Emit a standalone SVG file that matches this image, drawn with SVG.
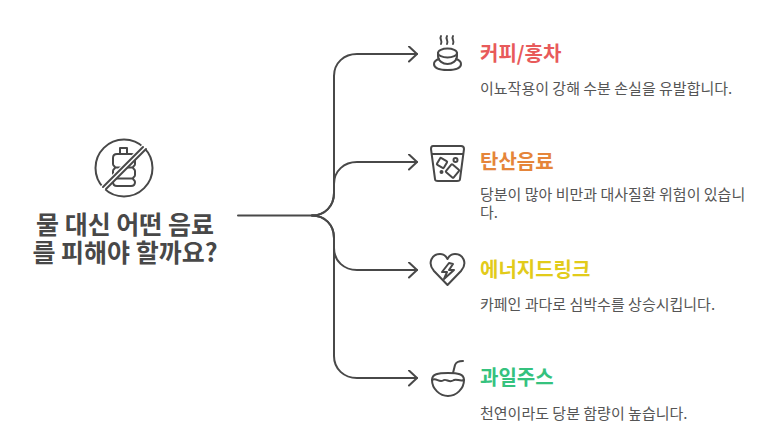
<svg xmlns="http://www.w3.org/2000/svg" width="775" height="446" viewBox="0 0 775 446">
<style>
text{font-family:"Noto Sans CJK KR","Noto Sans",sans-serif}
.t{font-size:25px;font-weight:700;fill:#484848;text-anchor:middle}
.h{font-size:20px;font-weight:700}
.d{font-size:15px;fill:#555}
.s{fill:none;stroke:#484848;stroke-width:2;stroke-linecap:round;stroke-linejoin:round}
</style>
<defs><marker id="a" markerUnits="userSpaceOnUse" markerWidth="14" markerHeight="18" refX="10" refY="8" orient="auto"><path d="M2 0.5L10 8L2 15.500" fill="none" stroke="#484848" stroke-width="2" stroke-linecap="round" stroke-linejoin="round"/></marker></defs>
<rect width="775" height="446" fill="#fff"/>
<g id="connectors" class="s">
<path marker-end="url(#a)" d="M238 215.500H312C325 215.500 334 206 334 193V76C334 63 344 54 357 54H417"/>
<path marker-end="url(#a)" d="M312 215.500C325 215.500 334 206 334 193V184C334 171 344 162 357 162H417"/>
<path marker-end="url(#a)" d="M312 215.500C325 215.500 334 225 334 238V248C334 261 344 270 357 270H417"/>
<path marker-end="url(#a)" d="M312 215.500C325 215.500 334 225 334 238V356C334 369 344 378 357 378H417"/>
</g>
<g id="root">
<g class="s">
<circle cx="124" cy="168" r="28.500"/>
<path d="M120 148h7v6h-7zM120 154h-3c-2 0-4 1-4 4v6c0 2 2 2 2 3.500s-2 1.500-2 3.500v4c0 2 2 2 2 3.500s-2 1.500-2 3.500c0 3 2 4 4 4h14c2 0 4-1 4-4 0-2-2-2-2-3.500s2-1.500 2-3.500v-4c0-2-2-2-2-3.500s2-1.500 2-3.500v-6c0-3-2-4-4-4h-4M115 167.500h18M115 178.500h18"/>
<path d="M104 187L144 147" stroke="#fff" stroke-width="6"/>
<path d="M103 187L143 147"/><path d="M106 189L146 149"/>
</g>
<text class="t"><tspan x="125" y="234">물 대신 어떤 음료</tspan><tspan x="125" y="262">를 피해야 할까요?</tspan></text>
</g>
<g id="n1">
<g class="s">
<path d="M441 36c-2 3 2 5 0 8M447 36c-2 3 2 5 0 8M453 36c-2 3 2 5 0 8"/>
<ellipse cx="447.500" cy="53" rx="9.500" ry="4.500"/>
<path d="M438 53v3c0 5 5 8 9.500 8s9.500-3 9.500-8v-3"/>
<path d="M439 59c-3 1-5 3-5 5 0 4 6 6 13.500 6s13.500-2 13.500-6c0-2-2-4-5-5"/>
</g>
<text class="h" x="480" y="61" fill="#e85a5a">커피/홍차</text>
<text class="d" x="480" y="94">이뇨작용이 강해 수분 손실을 유발합니다.</text>
</g>
<g id="n2">
<g class="s">
<path d="M433 146H461C463 146 464 147 464 149L460 179C460 181 459 181 457 181H438C436 181 435 181 435 179L431 149C431 147 432 146 433 146Z"/>
<path d="M432 154H463"/>
<rect x="-4" y="-4" width="8" height="8" rx="1" transform="translate(442 163) rotate(30)"/>
<rect x="-5" y="-5" width="10" height="10" rx="1" transform="translate(452.500 171) rotate(40)"/>
<circle cx="455.500" cy="160" r="2"/><circle cx="441.500" cy="172" r="1"/>
</g>
<text class="h" x="480" y="169" fill="#e5853a">탄산음료</text>
<text class="d"><tspan x="480" y="200">당분이 많아 비만과 대사질환 위험이 있습니</tspan><tspan x="480" y="218">다.</tspan></text>
</g>
<g id="n3">
<g class="s">
<path d="M447.500 285L434 271C427 263 432 254 440 254C443 254 446 256 447.500 259C449 256 452 254 455 254C463 254 468 263 461 271Z"/>
<path d="M449 263L442 272H447L444 279L454 270H449L453 264Z"/>
</g>
<text class="h" x="480" y="277" fill="#e2cb1a">에너지드링크</text>
<text class="d" x="480" y="310">카페인 과다로 심박수를 상승시킵니다.</text>
</g>
<g id="n4">
<g class="s">
<path d="M432 380C432 374 438 373 448 373S464 374 464 380C464 389 456 396 448 396S432 389 432 380Z"/>
<path d="M432 380C436 377 439 383 443 380.500C446 378 449 383 453 380.500C456 378 460 382 464 380"/>
<path d="M453 373L455 365C456 362 459 361 463 361"/>
</g>
<text class="h" x="480" y="385" fill="#35c27e">과일주스</text>
<text class="d" x="480" y="419">천연이라도 당분 함량이 높습니다.</text>
</g>
</svg>
